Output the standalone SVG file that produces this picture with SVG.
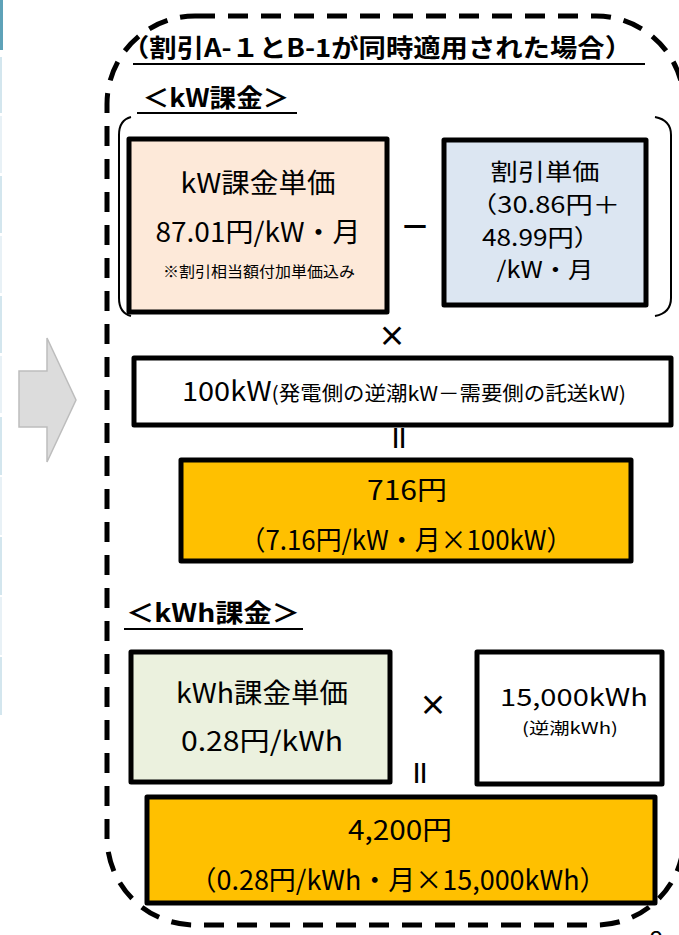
<svg xmlns="http://www.w3.org/2000/svg" width="679" height="935" viewBox="0 0 679 935">
<style>
.t{font-family:"Noto Sans CJK JP","Noto Sans",sans-serif;fill:#000;text-anchor:middle}
.b{font-weight:bold}
.box{stroke:#000;stroke-width:5;stroke-linejoin:round}
.ul{stroke:#000;stroke-width:2}
</style>
<rect width="679" height="935" fill="#fff"/>
<g id="edge">
<rect x="0" y="0" width="3" height="50" fill="#5ea2b8"/>
<rect x="0" y="57" width="2" height="56" fill="#d3e6ee"/>
<rect x="0" y="116" width="2" height="57" fill="#e8f1f6"/>
<rect x="0" y="176" width="2" height="57" fill="#d3e6ee"/>
<rect x="0" y="236" width="2" height="57" fill="#e8f1f6"/>
<rect x="0" y="296" width="2" height="57" fill="#d3e6ee"/>
<rect x="0" y="356" width="2" height="57" fill="#e8f1f6"/>
<rect x="0" y="417" width="2" height="58" fill="#d3e6ee"/>
<rect x="0" y="477" width="2" height="58" fill="#e8f1f6"/>
<rect x="0" y="537" width="2" height="58" fill="#d3e6ee"/>
<rect x="0" y="597" width="2" height="58" fill="#e8f1f6"/>
<rect x="0" y="657" width="2" height="58" fill="#d3e6ee"/>
</g>
<g id="arrow">
<polygon points="19,371 47,371 47,338 76,400 47,462 47,427 19,427" fill="#dcdcdc" stroke="#bdbdbd" stroke-width="1.5"/>
</g>
<g id="frame">
<rect x="107" y="16" width="577" height="909" rx="88" fill="none" stroke="#000" stroke-width="5" stroke-dasharray="20 13"/>
</g>
<g id="header">
<text class="t b" x="377" y="57" font-size="25" textLength="510" lengthAdjust="spacingAndGlyphs">（割引A-１とB-1が同時適用された場合）</text>
<line class="ul" x1="133" y1="64" x2="645" y2="64"/>
</g>
<g id="kw-title">
<text class="t b" x="216" y="107" font-size="25" textLength="147" lengthAdjust="spacingAndGlyphs">＜kW課金＞</text>
<line class="ul" x1="137" y1="113" x2="297" y2="113"/>
</g>
<g id="brackets" fill="none" stroke="#000" stroke-width="2">
<path d="M131,117 Q119,120 119,135 L119,298 Q119,313 131,316"/>
<path d="M655,117 Q671,120 671,135 L671,298 Q671,313 655,316"/>
</g>
<g id="kw-unit">
<rect class="box" x="129" y="139" width="258" height="173" fill="#fde9d9"/>
<text class="t" x="258" y="193" font-size="27" textLength="155" lengthAdjust="spacingAndGlyphs">kW課金単価</text>
<text class="t" x="258" y="242" font-size="27" textLength="205" lengthAdjust="spacingAndGlyphs">87.01円/kW・月</text>
<text class="t" x="259" y="277" font-size="15" textLength="192" lengthAdjust="spacingAndGlyphs">※割引相当額付加単価込み</text>
</g>
<g id="ops">
<text class="t b" x="415" y="237" font-size="30">－</text>
<text class="t b" x="392" y="347" font-size="28">×</text>
<text class="t b" x="433" y="716" font-size="28">×</text>
<text class="t b" font-size="28" transform="translate(397,438) rotate(90)" y="9">＝</text>
<text class="t b" font-size="28" transform="translate(418,773) rotate(90)" y="9">＝</text>
</g>
<g id="discount">
<rect class="box" x="444" y="140" width="202" height="165" fill="#dce6f2"/>
<text class="t" x="545" y="180" font-size="23" textLength="109" lengthAdjust="spacingAndGlyphs">割引単価</text>
<text class="t" x="545" y="213" font-size="23" textLength="150" lengthAdjust="spacingAndGlyphs">（30.86円＋</text>
<text class="t" x="541" y="246" font-size="23" textLength="118" lengthAdjust="spacingAndGlyphs">48.99円）</text>
<text class="t" x="545" y="278" font-size="23" textLength="97" lengthAdjust="spacingAndGlyphs">/kW・月</text>
</g>
<g id="kw-amount">
<rect class="box" x="134" y="358" width="537" height="67" fill="#fff"/>
<text class="t" x="404" y="401" textLength="444" lengthAdjust="spacingAndGlyphs"><tspan font-size="27">100kW</tspan><tspan font-size="20">(発電側の逆潮kW－需要側の託送kW)</tspan></text>
</g>
<g id="kw-result">
<rect class="box" x="181" y="460" width="450" height="101" fill="#ffc000"/>
<text class="t" x="407" y="500" font-size="27" textLength="80" lengthAdjust="spacingAndGlyphs">716円</text>
<text class="t" x="406" y="550" font-size="27" textLength="333" lengthAdjust="spacingAndGlyphs">（7.16円/kW・月×100kW）</text>
</g>
<g id="kwh-title">
<text class="t b" x="213" y="622" font-size="25" textLength="174" lengthAdjust="spacingAndGlyphs">＜kWh課金＞</text>
<line class="ul" x1="124" y1="629" x2="303" y2="629"/>
</g>
<g id="kwh-unit">
<rect class="box" x="131" y="652" width="259" height="130" fill="#ebf1de"/>
<text class="t" x="262" y="703" font-size="27" textLength="172" lengthAdjust="spacingAndGlyphs">kWh課金単価</text>
<text class="t" x="262" y="751" font-size="27" textLength="162" lengthAdjust="spacingAndGlyphs">0.28円/kWh</text>
</g>
<g id="kwh-amount">
<rect class="box" x="477" y="652" width="185" height="132" fill="#fff"/>
<text class="t" x="574" y="706" font-size="24" textLength="148" lengthAdjust="spacingAndGlyphs">15,000kWh</text>
<text class="t" x="570" y="734" font-size="16" textLength="96" lengthAdjust="spacingAndGlyphs">(逆潮kWh)</text>
</g>
<g id="kwh-result">
<rect class="box" x="147" y="797" width="508" height="106" fill="#ffc000"/>
<text class="t" x="400" y="840" font-size="27" textLength="104" lengthAdjust="spacingAndGlyphs">4,200円</text>
<text class="t" x="398" y="890" font-size="27" textLength="417" lengthAdjust="spacingAndGlyphs">（0.28円/kWh・月×15,000kWh）</text>
</g>
<text class="t" x="656" y="950" font-size="26">8</text>
</svg>
